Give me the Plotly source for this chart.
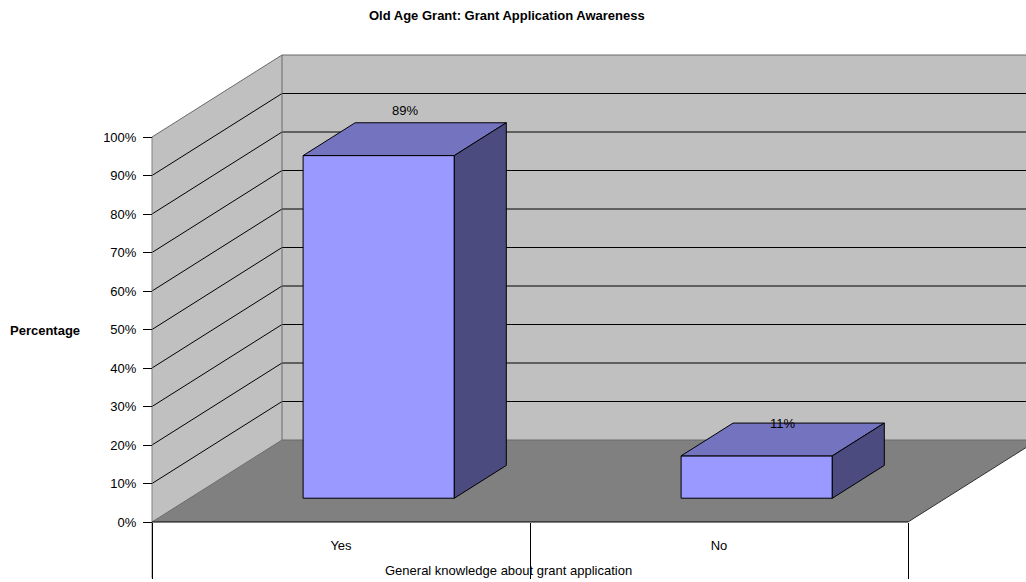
import plotly.graph_objects as go

# ---------------- data ----------------
title_text = "Old Age Grant: Grant Application Awareness"
categories = ["Yes", "No"]
values = [89, 11]
value_labels = ["89%", "11%"]
y_ticks = [0, 10, 20, 30, 40, 50, 60, 70, 80, 90, 100]
y_tick_labels = ["0%", "10%", "20%", "30%", "40%", "50%", "60%", "70%", "80%", "90%", "100%"]
x_title = "General knowledge about grant application"
y_title = "Percentage"

# ---------------- style / projection ----------------
W, H = 1026, 582
FONT = "Liberation Sans, Arial, sans-serif"
X0_PX, X_UNIT = 152, 378.0        # category axis origin and width per category
Y0_PX, Y_UNIT = 522, 3.85         # value axis origin and px per percent
DX = 130 / X_UNIT                 # depth offset in x-data units
DY = 82 / Y_UNIT                  # depth offset in y-data units
BAR_W = 0.4
D0, D1 = 0.29, 0.69               # bar depth span (fraction of full depth)
label_shift = [29, 16]

x_range = [-X0_PX / X_UNIT, (W - X0_PX) / X_UNIT]
y_range = [-(H - Y0_PX) / Y_UNIT, Y0_PX / Y_UNIT]
n_cat = len(categories)
vmax = y_ticks[-1]

WALL = "#C0C0C0"
FLOOR = "#808080"
EDGE = "#6a6a6a"
FRONT = "#9999FF"
TOP = "#7373BF"
SIDE = "#4B4B7F"

shapes = []


def poly(pts, fill, line_color=None, width=1):
    path = "M " + " L ".join(f"{x},{y}" for x, y in pts) + " Z"
    shapes.append(dict(type="path", path=path, xref="x", yref="y",
                       fillcolor=fill, layer="below",
                       line=dict(color=line_color or fill, width=width if line_color else 0)))


def seg(x0, y0, x1, y1, color, width=1):
    shapes.append(dict(type="line", x0=x0, y0=y0, x1=x1, y1=y1, xref="x", yref="y",
                       layer="below", line=dict(color=color, width=width)))


# back wall
poly([(DX, DY), (n_cat + DX + 1, DY), (n_cat + DX + 1, vmax + DY), (DX, vmax + DY)], WALL)
# left wall
poly([(0, 0), (0, vmax), (DX, vmax + DY), (DX, DY)], WALL)
# floor
poly([(0, 0), (n_cat, 0), (n_cat + DX, DY), (DX, DY)], FLOOR)

# gridlines
for v in y_ticks:
    c = "#000000" if 0 < v < vmax else EDGE
    seg(0, v, DX, v + DY, c)
    seg(DX, v + DY, n_cat + DX + 1, v + DY, c)
# back wall left edge
seg(DX, DY, DX, vmax + DY, EDGE)
# value axis line (front edge of left wall)
seg(0, y_range[0] + 1, 0, vmax, "#808080")
# floor front and right edge
seg(0, 0, n_cat, 0, "#000000")
seg(n_cat, 0, n_cat + DX, DY, "#303030")

fig = go.Figure()

# bars as filled polygons through the data axes
for i, (cat, v) in enumerate(zip(categories, values)):
    c = i + 0.5
    xl, xr = c - BAR_W / 2, c + BAR_W / 2
    faces = [
        ([xl + D0 * DX, xr + D0 * DX, xr + D0 * DX, xl + D0 * DX, xl + D0 * DX],
         [D0 * DY, D0 * DY, v + D0 * DY, v + D0 * DY, D0 * DY], FRONT),
        ([xl + D0 * DX, xr + D0 * DX, xr + D1 * DX, xl + D1 * DX, xl + D0 * DX],
         [v + D0 * DY, v + D0 * DY, v + D1 * DY, v + D1 * DY, v + D0 * DY], TOP),
        ([xr + D0 * DX, xr + D1 * DX, xr + D1 * DX, xr + D0 * DX, xr + D0 * DX],
         [D0 * DY, D1 * DY, v + D1 * DY, v + D0 * DY, D0 * DY], SIDE),
    ]
    for xs, ys, col in faces:
        fig.add_trace(go.Scatter(x=xs, y=ys, mode="lines", fill="toself",
                                 fillcolor=col, line=dict(color="#000000", width=1),
                                 hoverinfo="skip", showlegend=False, xaxis="x", yaxis="y"))

# invisible trace for the category-label axis
fig.add_trace(go.Scatter(x=[0.5, 1.5], y=[0, 0], mode="markers", marker=dict(opacity=0),
                         hoverinfo="skip", showlegend=False, xaxis="x2", yaxis="y"))

annotations = []
for i, (v, lab) in enumerate(zip(values, value_labels)):
    c = i + 0.5
    annotations.append(dict(x=c + (D0 + D1) / 2 * DX, y=v + (D0 + D1) / 2 * DY,
                            xref="x", yref="y", text=lab, showarrow=False,
                            xanchor="center", yanchor="middle",
                            yshift=label_shift[i], font=dict(family=FONT, size=13, color="#000")))

def paper_text(text, px, py, bold=False):
    annotations.append(dict(x=px / W, y=1 - py / H, xref="paper", yref="paper",
                            text=f"<b>{text}</b>" if bold else text,
                            xanchor="center", yanchor="middle", showarrow=False,
                            font=dict(family=FONT, size=13, color="#000")))

paper_text(title_text, 507, 15, bold=True)
paper_text(y_title, 44.5, 330, bold=True)
paper_text(x_title, 508, 570)

axis_pos_y = (H - Y0_PX) / H
fig.update_layout(
    width=W, height=H,
    margin=dict(l=0, r=0, t=0, b=0),
    paper_bgcolor="white", plot_bgcolor="white",
    showlegend=False,
    shapes=shapes,
    annotations=annotations,
    xaxis=dict(range=x_range, domain=[0, 1], anchor="free", position=axis_pos_y,
               showgrid=False, zeroline=False, showline=False,
               tickmode="array", tickvals=list(range(n_cat + 1)), ticks="outside",
               ticklen=56, tickcolor="#000000", tickwidth=1, showticklabels=False,
               fixedrange=True),
    xaxis2=dict(range=x_range, overlaying="x", anchor="free", position=axis_pos_y,
                showgrid=False, zeroline=False, showline=False,
                tickmode="array", tickvals=[i + 0.5 for i in range(n_cat)], ticktext=categories,
                ticks="outside", ticklen=11, tickcolor="rgba(0,0,0,0)",
                tickfont=dict(family=FONT, size=13, color="#000"), side="bottom",
                fixedrange=True),
    yaxis=dict(range=y_range, domain=[0, 1], anchor="free", position=X0_PX / W,
               showgrid=False, zeroline=False, showline=False,
               tickmode="array", tickvals=y_ticks, ticktext=y_tick_labels,
               ticks="outside", ticklen=9, tickcolor="#000000", tickwidth=1,
               ticklabelstandoff=4,
               tickfont=dict(family=FONT, size=13, color="#000"), fixedrange=True),
)

fig.write_html("out.html", config=dict(displayModeBar=False, staticPlot=True))
